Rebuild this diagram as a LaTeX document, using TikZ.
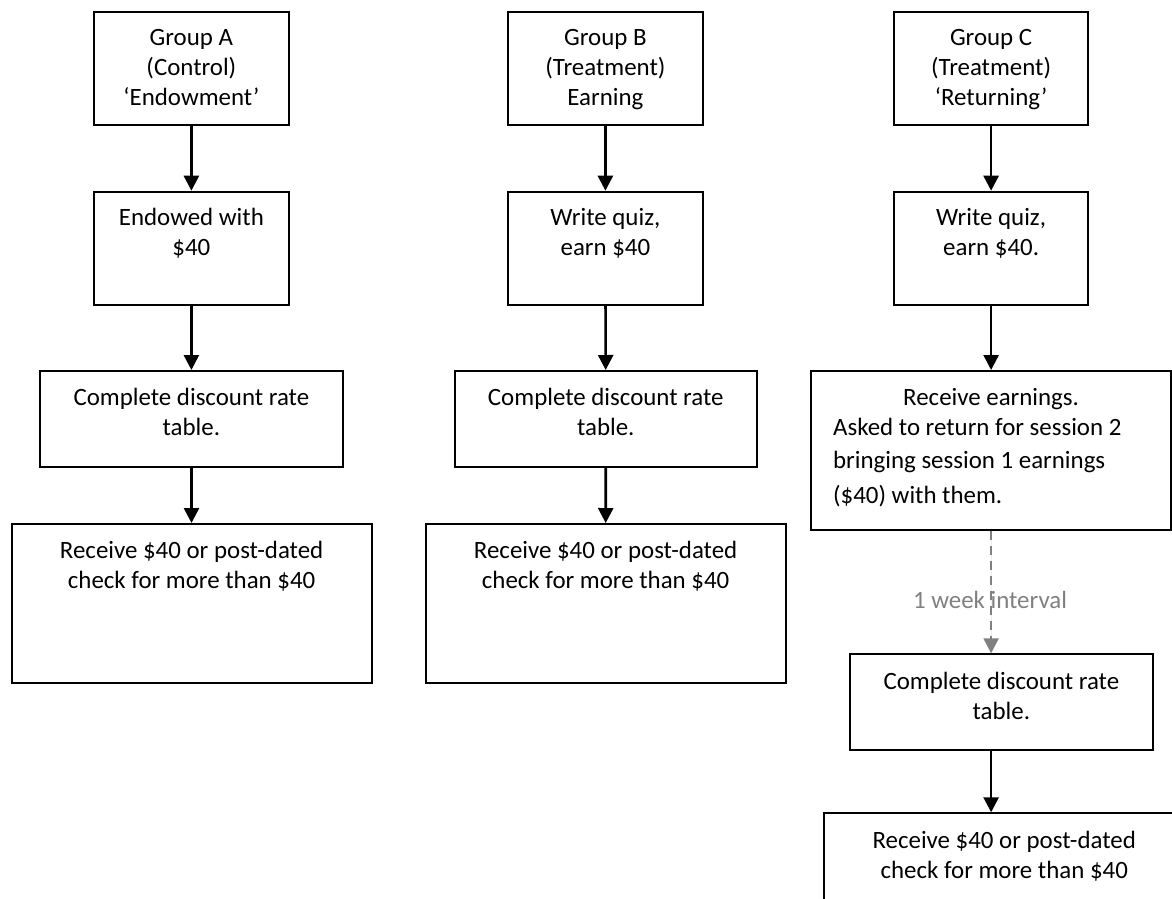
\documentclass[tikz,border=0pt]{standalone}
\usepackage{fontspec}
\setmainfont{Carlito}
\usetikzlibrary{arrows.meta}
\definecolor{gapgray}{RGB}{128,128,128}
\tikzset{
	stage/.style={draw, line width=1.8pt, inner sep=0pt, anchor=north west},
	flow/.style={->, line width=2.6pt},
	gapflow/.style={->, draw=gapgray, fill=gapgray, line width=2.2pt, dash pattern=on 9pt off 6pt},
	gaplabel/.style={text=gapgray, anchor=base}
}
\newcommand{\smallbox}[1]{\parbox[b][113.3pt][t]{194.4pt}{\centering\rule{0pt}{34pt}#1}}
\newcommand{\midbox}[1]{\parbox[b][95.7pt][t]{302.4pt}{\centering\rule{0pt}{35pt}#1}}
\newcommand{\bigbox}[1]{\parbox[b][159.3pt][t]{360pt}{\centering\rule{0pt}{35pt}#1}}
\begin{document}
\begin{tikzpicture}[x=1pt, y=-1pt, >={Triangle[width=15pt,length=15pt]}, font=\fontsize{24.9}{30}\selectfont]
\useasboundingbox (0,0) rectangle (1172,899);
\clip (0,0) rectangle (1172,899);

% Group A
\node[stage] (a1) at (93.3,11) {\smallbox{Group A\\(Control)\\‘Endowment’}};
\node[stage] (a2) at (93.3,190.7) {\smallbox{Endowed with\\\$40}};
\node[stage] (a3) at (39.3,370) {\midbox{Complete discount rate\\table.}};
\node[stage] (a4) at (10.7,523) {\bigbox{Receive \$40 or post-dated\\check for more than \$40}};

% Group B
\node[stage] (b1) at (507.3,11) {\smallbox{Group B\\(Treatment)\\Earning}};
\node[stage] (b2) at (507.3,190.7) {\smallbox{Write quiz,\\earn \$40}};
\node[stage] (b3) at (453.7,370) {\midbox{Complete discount rate\\table.}};
\node[stage] (b4) at (424.7,523) {\bigbox{Receive \$40 or post-dated\\check for more than \$40}};

% Group C
\node[stage] (c1) at (893,11) {\smallbox{Group C\\(Treatment)\\‘Returning’}};
\node[stage] (c2) at (893,190.7) {\smallbox{Write quiz,\\earn \$40.}};
\node[stage] (c3) at (810.2,370) {\bigbox{Receive earnings.\par\raggedright\leftskip=22pt Asked to return for session 2\\[3pt]bringing session 1 earnings\\[5pt](\$40) with them.}};
\node[stage] (c4) at (849.3,653.3) {\midbox{Complete discount rate\\table.}};
\node[stage] (c5) at (823.3,812.3) {\bigbox{Receive \$40 or post-dated\\check for more than \$40}};
\node[gaplabel] (gap) at (990,608) {1 week interval};

\foreach \u/\v in {a1/a2,a2/a3,a3/a4,b1/b2,b2/b3,b3/b4,c1/c2}
{
	\draw[flow] (\u)--(\v);
}
\draw[flow] (c2.south)--(c2.south |- c3.north);
\draw[gapflow] (c3.south)--(c3.south |- c4.north);
\draw[flow] (c4.south -| c3.south)--(c5.north -| c3.south);
\end{tikzpicture}
\end{document}
